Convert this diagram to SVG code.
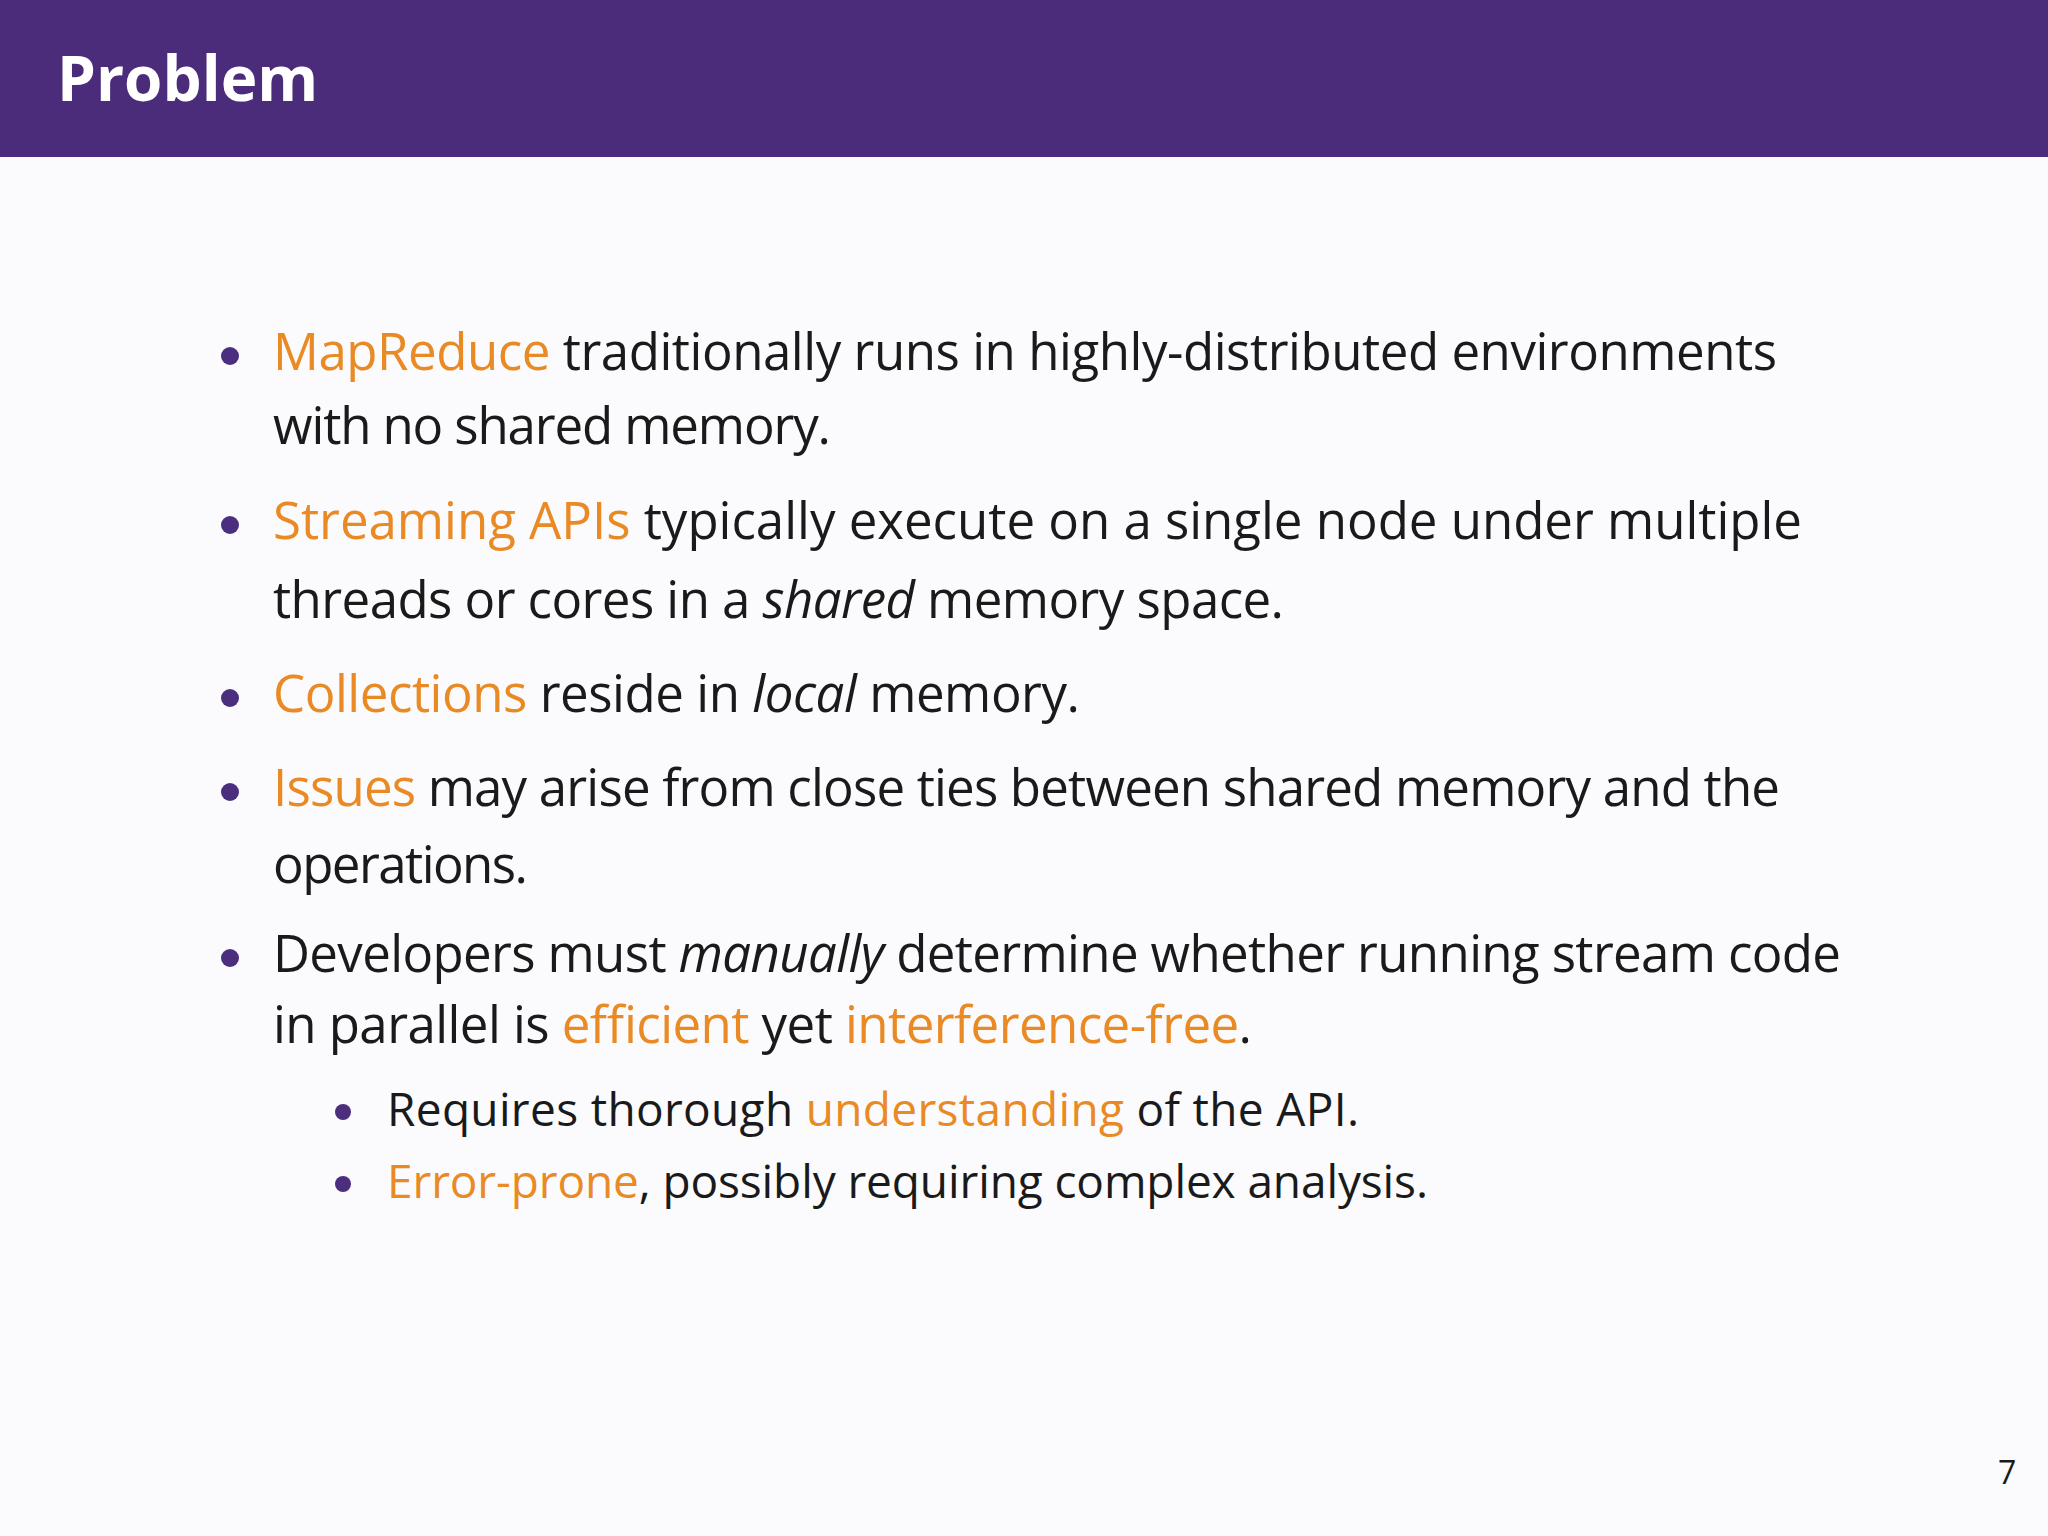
<svg xmlns="http://www.w3.org/2000/svg" width="2048" height="1536" viewBox="0 0 2048 1536">
<style>
.t{font-family:"Open Sans","DejaVu Sans",sans-serif;font-size:51px;fill:#1a1a1a}
.s{font-size:46px}
.o{fill:#e98a24}
.i{font-style:italic}
.d{fill:#4b2e7d}
</style>
<rect width="2048" height="1536" fill="#fbfbfd"/>
<g id="header">
<rect width="2048" height="157" fill="#4a2c7a"/>
<text x="57" y="101" font-family="'Open Sans','DejaVu Sans',sans-serif" font-weight="bold" font-size="62" fill="#ffffff">Problem</text>
</g>
<g id="bullets">
<circle class="d" cx="230" cy="356" r="9"/>
<circle class="d" cx="230" cy="525" r="9"/>
<circle class="d" cx="230" cy="698" r="9"/>
<circle class="d" cx="230" cy="792" r="9"/>
<circle class="d" cx="230" cy="958" r="9"/>
<circle class="d" cx="343" cy="1112" r="8"/>
<circle class="d" cx="343" cy="1184" r="8"/>
<text class="t" x="273" y="370" textLength="1504" lengthAdjust="spacing"><tspan class="o">MapReduce</tspan> traditionally runs in highly-distributed environments</text>
<text class="t" x="273" y="444" textLength="558" lengthAdjust="spacing">with no shared memory.</text>
<text class="t" x="273" y="539" textLength="1529" lengthAdjust="spacing"><tspan class="o">Streaming APIs</tspan> typically execute on a single node under multiple</text>
<text class="t" x="273" y="618" textLength="1011" lengthAdjust="spacing">threads or cores in a <tspan class="i">shared</tspan> memory space.</text>
<text class="t" x="273" y="712" textLength="807" lengthAdjust="spacing"><tspan class="o">Collections</tspan> reside in <tspan class="i">local</tspan> memory.</text>
<text class="t" x="273" y="806" textLength="1507" lengthAdjust="spacing"><tspan class="o">Issues</tspan> may arise from close ties between shared memory and the</text>
<text class="t" x="273" y="883" textLength="255" lengthAdjust="spacing">operations.</text>
<text class="t" x="273" y="972" textLength="1568" lengthAdjust="spacing">Developers must <tspan class="i">manually</tspan> determine whether running stream code</text>
<text class="t" x="273" y="1043" textLength="979" lengthAdjust="spacing">in parallel is <tspan class="o">efficient</tspan> yet <tspan class="o">interference-free</tspan>.</text>
<text class="t s" x="387" y="1126" textLength="972" lengthAdjust="spacing">Requires thorough <tspan class="o">understanding</tspan> of the API.</text>
<text class="t s" x="387" y="1198" textLength="1041" lengthAdjust="spacing"><tspan class="o">Error-prone</tspan>, possibly requiring complex analysis.</text>
</g>
<text x="1998" y="1484" font-family="'Open Sans','DejaVu Sans',sans-serif" font-size="32" fill="#1a1a1a">7</text>
</svg>
